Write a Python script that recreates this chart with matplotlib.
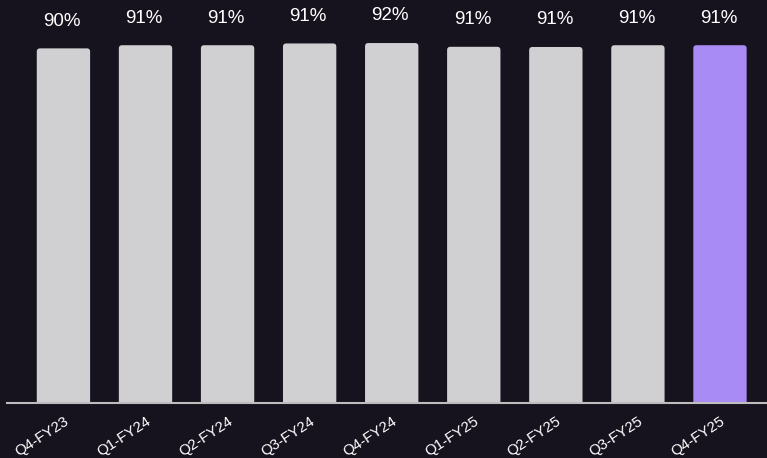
import matplotlib.pyplot as plt
from matplotlib.patches import FancyBboxPatch

quarters = ["Q4-FY23", "Q1-FY24", "Q2-FY24", "Q3-FY24", "Q4-FY24",
            "Q1-FY25", "Q2-FY25", "Q3-FY25", "Q4-FY25"]
values = [90.2, 91.0, 91.0, 91.45, 91.55, 90.6, 90.55, 91.0, 91.0]

bg = "#16121e"
grey = "#d0d0d2"
purple = "#a98bf6"
colors = [grey] * (len(quarters) - 1) + [purple]

plt.rcParams['font.family'] = ['Liberation Sans', 'DejaVu Sans']

fig = plt.figure(figsize=(7.67, 4.58), dpi=100, facecolor=bg)
ax = fig.add_axes([0.0091, 0.1201, 0.9909, 0.8799], facecolor=bg)

x = list(range(len(quarters)))
bars = ax.bar(x, values, width=0.65, color=colors)

# swap the plain rectangles for ones with softly rounded tops
for b in bars:
    bx, by = b.get_x(), b.get_y()
    w, h = b.get_width(), b.get_height()
    rounded = FancyBboxPatch((bx, by - 2), w, h + 2,
                             boxstyle="round,pad=0,rounding_size=0.04",
                             mutation_aspect=20.5,
                             facecolor=b.get_facecolor(), edgecolor="none")
    b.remove()
    ax.add_patch(rounded)

for xi, v in zip(x, values):
    ax.annotate(f"{v:.0f}%", (xi, v), xytext=(-1, 19.5), textcoords="offset points",
                ha="center", va="center", color="white", fontsize=13.5)

ax.set_xlim(-0.688, 8.573)
ax.set_ylim(0, 102.5)

ax.set_xticks(x)
ax.set_xticklabels(quarters, rotation=33, ha="right", rotation_mode="anchor",
                   color="white", fontsize=10.8)
ax.tick_params(axis="x", length=0, pad=8)
ax.set_yticks([])

for side in ["top", "right", "left"]:
    ax.spines[side].set_visible(False)
ax.spines["bottom"].set_color("#bdbdbd")
ax.spines["bottom"].set_linewidth(1.5)

fig.savefig("out.png", dpi=100, facecolor=bg)
